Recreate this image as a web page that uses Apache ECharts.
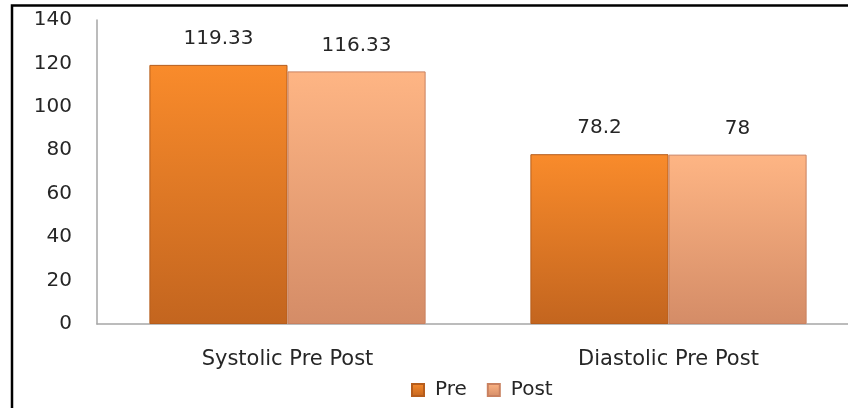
<!DOCTYPE html>
<html>
<head>
<meta charset="utf-8">
<script src="https://cdn.jsdelivr.net/npm/echarts@6/dist/echarts.min.js"></script>
<style>
  html, body { margin: 0; padding: 0; background: #fff; overflow: hidden; }
  #chart { width: 960px; height: 408px; }
</style>
</head>
<body>
<div id="chart"></div>
<script>
const categories = ['Systolic Pre Post', 'Diastolic Pre Post'];
const preValues = [119.33, 78.2];
const postValues = [116.33, 78];
const yTicks = { min: 0, max: 140, interval: 20 };

const fontFamily = 'DejaVu Sans';
const textColor = '#262626';

const grad = (top, bottom) => new echarts.graphic.LinearGradient(0, 0, 0, 1, [
    { offset: 0, color: top },
    { offset: 1, color: bottom }
]);

const chart = echarts.init(document.getElementById('chart'));
chart.setOption({
    animation: false,
    grid: { left: 97, top: 20, width: 762, height: 304, containLabel: false },
    graphic: [
        {
            type: 'rect',
            shape: { x: 12, y: 5.5, width: 920, height: 420 },
            style: { fill: 'none', stroke: '#000', lineWidth: 2.5 },
            silent: true
        }
    ],
    legend: {
        left: 406,
        top: 375,
        itemWidth: 12,
        itemHeight: 12,
        itemGap: 20,
        icon: 'rect',
        textStyle: { fontFamily: fontFamily, fontSize: 20, color: textColor, padding: [0, 0, 0, 6] },
        data: ['Pre', 'Post']
    },
    xAxis: {
        type: 'category',
        data: categories,
        axisLine: { lineStyle: { color: '#a6a6a6', width: 1.5 } },
        axisTick: { show: false },
        axisLabel: { fontFamily: fontFamily, fontSize: 21, color: textColor, margin: 25 }
    },
    yAxis: {
        type: 'value',
        min: yTicks.min,
        max: yTicks.max,
        interval: yTicks.interval,
        axisLine: { show: true, lineStyle: { color: '#a6a6a6', width: 1.5 } },
        axisTick: { show: false },
        splitLine: { show: false },
        axisLabel: { fontFamily: fontFamily, fontSize: 20, color: textColor, margin: 25 }
    },
    series: [
        {
            name: 'Pre',
            type: 'bar',
            data: preValues,
            barGap: '0%',
            barCategoryGap: '27.5%',
            itemStyle: {
                color: grad('#f98b2b', '#c3651f'),
                borderColor: '#b65d1c',
                borderWidth: 1
            },
            label: {
                show: true,
                position: 'top',
                distance: 16,
                fontFamily: fontFamily,
                fontSize: 20,
                color: textColor
            }
        },
        {
            name: 'Post',
            type: 'bar',
            data: postValues,
            itemStyle: {
                color: grad('#feb584', '#d48c67'),
                borderColor: '#c98160',
                borderWidth: 1
            },
            label: {
                show: true,
                position: 'top',
                distance: 16,
                fontFamily: fontFamily,
                fontSize: 20,
                color: textColor
            }
        }
    ]
});
</script>
</body>
</html>
